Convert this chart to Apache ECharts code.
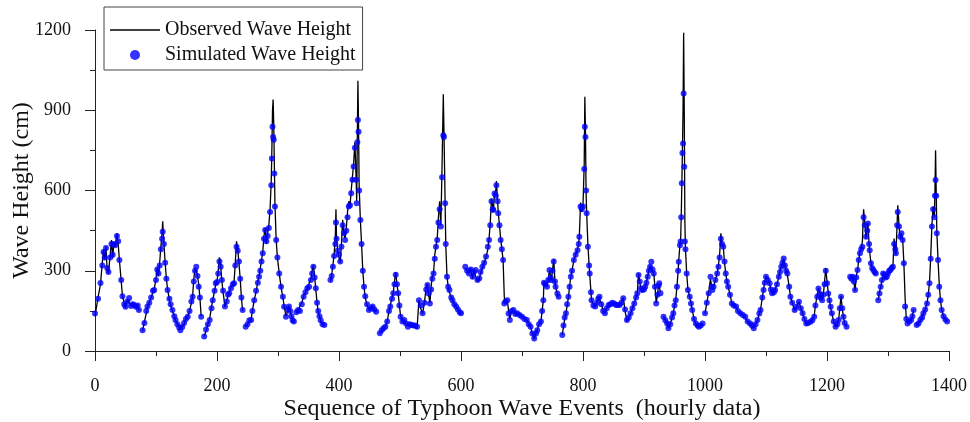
<!DOCTYPE html>
<html>
<head>
<meta charset="utf-8">
<script src="https://cdn.jsdelivr.net/npm/echarts@6/dist/echarts.min.js"></script>
<style>
html,body{margin:0;padding:0;background:#fff;}
#chart{width:970px;height:422px;}
</style>
</head>
<body>
<div id="chart"></div>
<script>
// Hour index of each reading; null marks a break between typhoon events
const hours = [
  0,5,9,12,14,16,18,20,22,25,27,29,31,33,36,38,40,43,45,48,50,53,56,59,62,64,67,70,72, null,
  78,81,84,86,89,92,95,97,100,102,104,106,108,110,111,113,115,117,119,122,124,127,130,132,135,138,140,143,146,149,152,155,158,160,162,164,166,168,170,172,174, null,
  179,182,185,188,191,193,196,198,200,202,204,206,208,210,213,216,218,220,223,226,228,230,232,234,236,238,240,242, null,
  247,250,253,256,258,261,264,267,269,271,273,275,277,279,281,283,285,287,289,290,291,292,293,294,295,297,299,302,305,308,310,313,316,318,320,322,324,326, null,
  330,333,336,339,342,345,348,351,354,356,358,360,362,364,366,368,370,373,376, null,
  386,388,390,392,394,395,396,398,400,402,404,406,408,410,412,414,416,418,420,422,424,426,428,429,430,431,432,433,435,437,439,441,443,446,449,452,455,458,461, null,
  467,470,473,476,479,482,484,487,489,491,493,495,497,499,501,504,507,510,513,516,519,522,525,528,531,534,537,540,543,545,547,549,551,553,555,557,559,561,563,565,567,569,571,572,574,575,577,579,581,584,586,589,592,595,598,600, null,
  607,610,613,616,619,621,624,627,630,632,635,638,641,644,646,648,650,652,653,655,657,658,660,661,663,665,667,669,671,673,676,678,680,683,686,689,692,696,700,704,708,711,714,717,720,723,725,728,731,733,735,736,738,741,743,745,747,748,750,752,754,755,758,760, null,
  766,768,770,772,774,776,778,780,782,785,788,791,793,794,796,798,800,802,803,804,805,806,808,810,811,813,814,817,820,823,825,827,830,833,836,839,842,845,848,851,854,857,860,863,866,869,872,875,878,881,884,887,889,891,893,895,897,900,902,904,906,908,910,912,914,916,918,920,922,924,925,927, null,
  932,935,938,940,943,946,948,950,952,954,956,957,959,960,961,962,963,964,965,966,967,968,970,972,975,977,979,982,985,988,990,993,996, null,
  1000,1003,1006,1009,1011,1012,1014,1017,1020,1022,1024,1026,1028,1030,1032,1034,1036,1038,1041,1044,1047,1051,1054,1058,1062,1066,1070,1074,1077,1080,1083,1086,1089,1091,1094,1096,1098,1100,1103,1106,1108,1110,1113,1115,1118,1121,1123,1125,1127,1129,1131,1133,1135,1138,1140,1143,1147,1150,1154,1157,1160,1163,1166,1169,1173,1176,1179,1181,1184,1186,1188,1190,1192,1194,1196,1198,1200,1202,1204,1206,1208,1211,1214,1217,1219,1221,1223,1225,1227,1229,1232, null,
  1238,1240,1242,1244,1246,1248,1250,1252,1254,1256,1258,1260,1262,1264,1266,1267,1269,1270,1272,1274,1276,1278,1280, null,
  1284,1286,1288,1290,1292,1294,1296,1298,1300,1302,1304,1306,1308,1310,1312,1313,1315,1316,1318,1320,1322,1324,1326,1328,1330,1332,1335,1338,1340,1342, null,
  1347,1350,1353,1356,1358,1361,1364,1366,1368,1370,1372,1374,1376,1377,1378,1379,1380,1382,1384,1386,1388,1391,1394,1397
];

// Observed wave height (cm)
const observed = [
  130,200,250,330,380,340,390,300,290,360,415,350,405,390,440,400,340,260,205,180,160,190,195,170,180,170,160,175,150, null,
  75,110,140,165,170,200,220,230,270,310,280,330,390,440,485,400,330,270,230,190,170,150,130,115,100,90,80,90,100,120,130,150,180,205,270,310,300,280,250,200,130, null,
  55,75,100,120,165,190,225,250,260,300,350,320,260,220,165,190,205,220,240,250,260,330,410,380,330,270,200,150, null,
  90,100,110,120,150,190,220,260,280,310,340,370,430,460,400,440,470,530,640,760,900,940,850,700,550,415,350,290,240,200,170,130,150,170,150,130,115,105, null,
  140,155,150,180,205,220,235,240,270,300,320,280,230,180,145,130,110,100,95, null,
  260,285,320,360,430,530,420,370,350,330,400,490,440,420,460,520,560,540,600,650,700,780,650,560,800,1010,850,620,490,400,300,240,200,170,155,160,170,150,145, null,
  65,75,80,90,110,150,170,200,220,260,295,250,215,170,130,110,110,100,95,100,100,90,95,85,190,160,140,180,240,250,210,180,240,280,290,360,390,420,500,560,470,700,960,830,550,400,280,240,220,200,190,175,165,155,145,140, null,
  310,300,290,310,270,300,300,260,270,290,310,330,350,380,420,480,570,540,520,590,600,635,560,520,470,420,380,340,200,180,190,150,120,150,155,140,140,135,130,125,115,100,90,65,45,65,80,100,110,150,190,260,250,240,270,300,280,265,300,345,260,240,215,200, null,
  60,90,120,140,170,200,240,280,300,340,360,380,400,430,555,520,545,700,950,830,600,515,400,320,290,220,190,175,165,180,200,205,180,150,140,160,170,175,180,175,170,175,170,180,200,150,110,125,140,160,180,200,215,290,260,230,220,230,240,255,280,300,320,325,300,290,240,180,210,250,255,220, null,
  130,115,100,85,100,125,140,170,190,240,300,340,400,410,500,620,750,900,1190,900,480,380,290,230,200,180,155,120,100,95,90,95,103, null,
  140,180,220,270,240,230,240,265,290,320,360,440,400,390,330,290,260,240,210,180,170,165,150,140,135,125,110,100,95,85,100,115,140,155,200,230,260,280,270,250,230,215,220,230,250,275,300,315,330,345,320,300,285,240,205,180,150,165,185,160,140,120,100,105,110,115,130,170,210,235,220,200,190,210,260,310,260,220,190,160,140,110,90,100,115,160,205,160,125,105,90, null,
  275,270,280,260,225,280,300,340,370,380,410,530,480,420,460,480,400,370,330,310,300,290,285, null,
  190,220,240,260,290,280,270,280,290,300,300,320,310,420,380,360,480,545,470,420,440,420,330,200,120,105,110,115,130,155, null,
  95,100,115,125,140,155,180,210,255,350,470,540,500,600,750,600,450,340,250,190,155,130,118,110
];

// Simulated wave height (cm)
const simulated = [
  140,195,254,320,370,350,385,310,295,350,400,360,400,395,430,410,340,265,205,175,165,185,198,168,175,172,165,170,153, null,
  78,105,150,166,180,200,225,228,265,305,290,320,380,420,446,400,330,270,228,195,175,153,130,116,100,88,78,90,105,120,128,150,185,203,260,300,315,280,240,200,128, null,
  54,80,100,116,160,190,225,253,258,290,335,315,265,225,166,185,210,216,235,250,253,320,390,375,335,270,200,153, null,
  91,100,115,116,150,190,225,255,278,300,335,365,420,452,410,430,460,520,620,720,838,800,790,664,540,415,350,290,240,203,165,128,155,166,150,130,115,110, null,
  145,153,150,175,203,220,235,240,265,290,315,275,235,180,150,130,115,100,97, null,
  265,280,315,355,400,480,420,375,360,335,390,470,440,415,450,500,540,545,590,640,690,760,640,552,780,864,820,600,490,400,300,240,205,175,153,160,166,155,147, null,
  66,78,85,91,110,150,166,195,216,250,285,250,216,170,128,110,116,103,91,100,97,95,95,91,190,170,141,180,230,247,215,178,230,270,290,345,390,415,480,530,465,650,807,800,552,400,278,240,228,200,190,175,166,155,145,141, null,
  315,300,290,305,278,295,303,265,272,295,315,330,353,390,415,470,560,530,527,589,580,620,560,515,470,415,380,340,178,185,190,140,116,150,153,138,141,135,128,120,116,100,91,65,47,65,78,100,110,150,190,255,250,240,265,303,275,265,300,335,260,240,215,203, null,
  60,95,125,141,175,203,240,278,300,340,360,377,400,427,540,530,540,680,838,800,600,515,390,320,290,220,190,170,166,180,195,203,175,150,141,160,172,175,180,178,172,172,172,180,197,155,116,125,141,160,178,200,216,284,260,235,228,230,240,255,278,300,315,334,305,290,240,178,210,245,253,216, null,
  128,115,103,85,100,125,141,170,190,240,300,334,395,409,500,627,740,776,963,689,409,380,290,228,203,178,153,120,103,95,91,95,103, null,
  141,180,216,278,240,228,240,265,290,315,350,420,400,390,335,290,260,240,210,178,170,166,150,141,135,128,110,103,95,85,100,116,140,153,200,228,255,278,265,253,230,216,220,228,250,278,295,315,330,346,320,300,290,240,203,180,153,165,184,160,141,120,103,105,109,115,128,170,203,234,215,200,190,210,250,300,253,215,190,165,141,110,91,100,116,160,203,160,128,105,91, null,
  278,270,278,260,228,275,303,340,365,380,390,500,470,427,450,477,400,377,328,310,303,295,290, null,
  190,215,240,265,290,285,275,278,290,300,303,310,315,400,380,365,470,520,465,427,440,415,328,166,120,103,110,116,130,153, null,
  97,103,116,125,141,155,178,210,253,345,465,530,500,580,639,580,440,340,240,190,153,130,118,110
];

const xTicks = { min: 0, max: 1400, interval: 200 };
const yTicks = { min: 0, max: 1200, interval: 300 };

if (hours.length !== observed.length || hours.length !== simulated.length) {
  throw new Error('length mismatch ' + hours.length + ' ' + observed.length + ' ' + simulated.length);
}

const obsData = hours.map((h, i) => [h, observed[i]]);
const simData = [];
hours.forEach((h, i) => { if (h !== null && simulated[i] !== null) simData.push([h, simulated[i]]); });

const FONT = '"Liberation Serif", "Times New Roman", serif';
const chart = echarts.init(document.getElementById('chart'), null, { renderer: 'canvas' });
chart.setOption({
  animation: false,
  backgroundColor: '#ffffff',
  textStyle: { fontFamily: FONT },
  grid: { left: 95, right: 21, top: 30, bottom: 71, containLabel: false, outerBoundsMode: 'none' },
  legend: {
    left: 104, top: 7, orient: 'vertical',
    borderColor: '#444', borderWidth: 1,
    padding: [13, 7, 5, 6],
    itemWidth: 50, itemHeight: 10, itemGap: 5,
    textStyle: { fontSize: 20, fontFamily: FONT, color: '#111' },
    data: [
      { name: 'Observed Wave Height', icon: 'path://M0,0H100V3H0Z' },
      { name: 'Simulated Wave Height', icon: 'circle' }
    ]
  },
  xAxis: {
    type: 'value', min: xTicks.min, max: xTicks.max, interval: xTicks.interval,
    axisLine: { show: true, lineStyle: { color: '#222', width: 1 } },
    axisTick: { show: true, length: 10, lineStyle: { color: '#222' } },
    minorTick: { show: true, splitNumber: 2, length: 5, lineStyle: { color: '#222' } },
    splitLine: { show: false },
    axisLabel: { fontSize: 18, color: '#111', margin: 26, fontFamily: FONT, formatter: v => String(v) },
    name: 'Sequence of Typhoon Wave Events  (hourly data)',
    nameLocation: 'middle', nameGap: 46, nameMoveOverlap: false,
    nameTextStyle: { fontSize: 24, color: '#111', fontFamily: FONT }
  },
  yAxis: {
    type: 'value', min: yTicks.min, max: yTicks.max, interval: yTicks.interval,
    axisLine: { show: true, lineStyle: { color: '#222', width: 1 } },
    axisTick: { show: true, length: 10, lineStyle: { color: '#222' } },
    minorTick: { show: true, splitNumber: 2, length: 5, lineStyle: { color: '#222' } },
    splitLine: { show: false },
    axisLabel: { fontSize: 18, color: '#111', margin: 24, fontFamily: FONT, formatter: v => String(v) },
    name: 'Wave Height (cm)',
    nameLocation: 'middle', nameGap: 61, nameRotate: 90, nameMoveOverlap: false,
    nameTextStyle: { fontSize: 24, color: '#111', fontFamily: FONT }
  },
  series: [
    {
      name: 'Observed Wave Height', type: 'line', data: obsData,
      symbol: 'none', connectNulls: false,
      lineStyle: { color: '#000', width: 1.3 }, itemStyle: { color: '#000' },
      z: 2
    },
    {
      name: 'Simulated Wave Height', type: 'scatter', data: simData,
      symbol: 'circle', symbolSize: 6,
      itemStyle: { color: '#0000ff' },
      z: 3
    }
  ]
});
</script>
</body>
</html>
